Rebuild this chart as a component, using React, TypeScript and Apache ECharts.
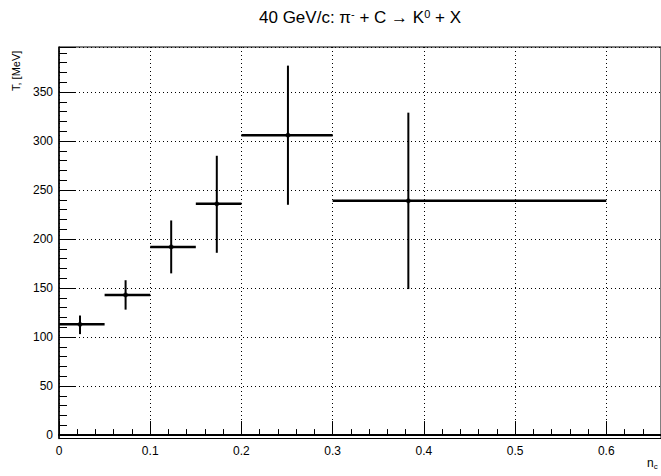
import React, { useEffect, useRef } from "react";
import * as echarts from "echarts";

// n_c bins (centres, lower and upper edges)
const xCenters = [0.023, 0.073, 0.123, 0.173, 0.251, 0.383];
const xLow = [0, 0.05, 0.1, 0.15, 0.2, 0.3];
const xHigh = [0.05, 0.1, 0.15, 0.2, 0.3, 0.6];
// T [MeV] values with errors (low / high ends)
const yValues = [113, 143, 192, 236, 306, 239];
const yLow = [103, 128, 165, 186, 235, 149];
const yHigh = [122, 158, 219, 285, 377, 329];

const xTickLabels = ["0", "0.1", "0.2", "0.3", "0.4", "0.5", "0.6"];

const FONT = "'Liberation Sans', Arial, sans-serif";

export default function App() {
  const ref = useRef<HTMLDivElement>(null);
  useEffect(() => {
    if (!ref.current) return;
    const chart = echarts.init(ref.current, null, { renderer: "svg" });
    const errData = xCenters.map((x, i) => [x, yValues[i], xLow[i], xHigh[i], yLow[i], yHigh[i]]);
    const ptData = xCenters.map((x, i) => [x, yValues[i]]);
    chart.setOption({
      animation: false,
      backgroundColor: "#fff",
      textStyle: { fontFamily: FONT },
      grid: {
        left: 59,
        right: 0,
        top: 47,
        bottom: 37.5,
        show: true,
        borderColor: "#000",
        borderWidth: 1,
        backgroundColor: "transparent",
      },
      xAxis: {
        type: "value",
        min: 0,
        max: 0.66,
        interval: 0.1,
        axisLine: { show: true, lineStyle: { color: "#000", width: 2 } },
        axisTick: { show: true, inside: true, length: 14, lineStyle: { color: "#000" } },
        minorTick: { show: true, splitNumber: 5, length: 6, lineStyle: { color: "#000" } },
        splitLine: { show: true, lineStyle: { color: "#000", type: [1, 3], width: 1 } },
        axisLabel: {
          color: "#000",
          fontSize: 12,
          fontFamily: FONT,
          margin: 6,
          showMaxLabel: false,
          formatter: (v: number) => {
            const idx = Math.round(v * 10);
            return xTickLabels[idx] !== undefined ? xTickLabels[idx] : "";
          },
        },
      },
      yAxis: {
        type: "value",
        min: -3.5,
        max: 396,
        splitNumber: 8,
        axisLine: { show: true, lineStyle: { color: "#000", width: 1.5 } },
        axisTick: { show: true, inside: true, length: 16, lineStyle: { color: "#000" } },
        minorTick: { show: true, splitNumber: 5, length: 8, lineStyle: { color: "#000" } },
        splitLine: { show: true, lineStyle: { color: "#000", type: [1, 3], width: 1 } },
        axisLabel: {
          color: "#000",
          fontSize: 12,
          fontFamily: FONT,
          margin: 6,
          showMinLabel: false,
          showMaxLabel: false,
        },
      },
      graphic: [
        {
          type: "text",
          x: 360,
          y: 8,
          style: {
            text: "40 GeV/c: π{sup|-} + C → K{sup|0} + X",
            font: `17px ${FONT}`,
            fill: "#000",
            textAlign: "center",
            rich: {
              sup: { fontSize: 11, verticalAlign: "top", padding: [0, 0, 8, 0], fontFamily: FONT, fill: "#000" },
            },
          } as any,
        },
        {
          type: "text",
          x: 10,
          y: 91,
          rotation: Math.PI / 2,
          style: {
            text: "T, [MeV]",
            font: `11px ${FONT}`,
            fill: "#000",
            textAlign: "left",
            textVerticalAlign: "top",
          } as any,
        },
        {
          type: "text",
          x: 647,
          y: 456,
          style: {
            text: "n{sub|c}",
            font: `12px ${FONT}`,
            fill: "#000",
            rich: {
              sub: { fontSize: 8, verticalAlign: "bottom", padding: [6, 0, 0, 0], fontFamily: FONT, fill: "#000" },
            },
          } as any,
        },
      ],
      series: [
        {
          type: "custom",
          data: errData,
          renderItem: (params: any, api: any) => {
            const x = api.value(0);
            const y = api.value(1);
            const c = api.coord([x, y]);
            const l = api.coord([api.value(2), y]);
            const r = api.coord([api.value(3), y]);
            const lo = api.coord([x, api.value(4)]);
            const hi = api.coord([x, api.value(5)]);
            return {
              type: "group",
              children: [
                {
                  type: "line",
                  shape: { x1: l[0], y1: c[1], x2: r[0], y2: c[1] },
                  style: { stroke: "#000", lineWidth: 2.5 },
                },
                {
                  type: "line",
                  shape: { x1: c[0], y1: lo[1], x2: c[0], y2: hi[1] },
                  style: { stroke: "#000", lineWidth: 2 },
                },
              ],
            };
          },
          z: 5,
        },
        {
          type: "scatter",
          data: ptData,
          symbol: "circle",
          symbolSize: 5,
          itemStyle: { color: "#000" },
          z: 6,
        },
      ],
    });
    return () => chart.dispose();
  }, []);
  return (
    <div
      ref={ref}
      style={{ position: "absolute", left: 0, top: 0, width: 661, height: 476 }}
    />
  );
}
